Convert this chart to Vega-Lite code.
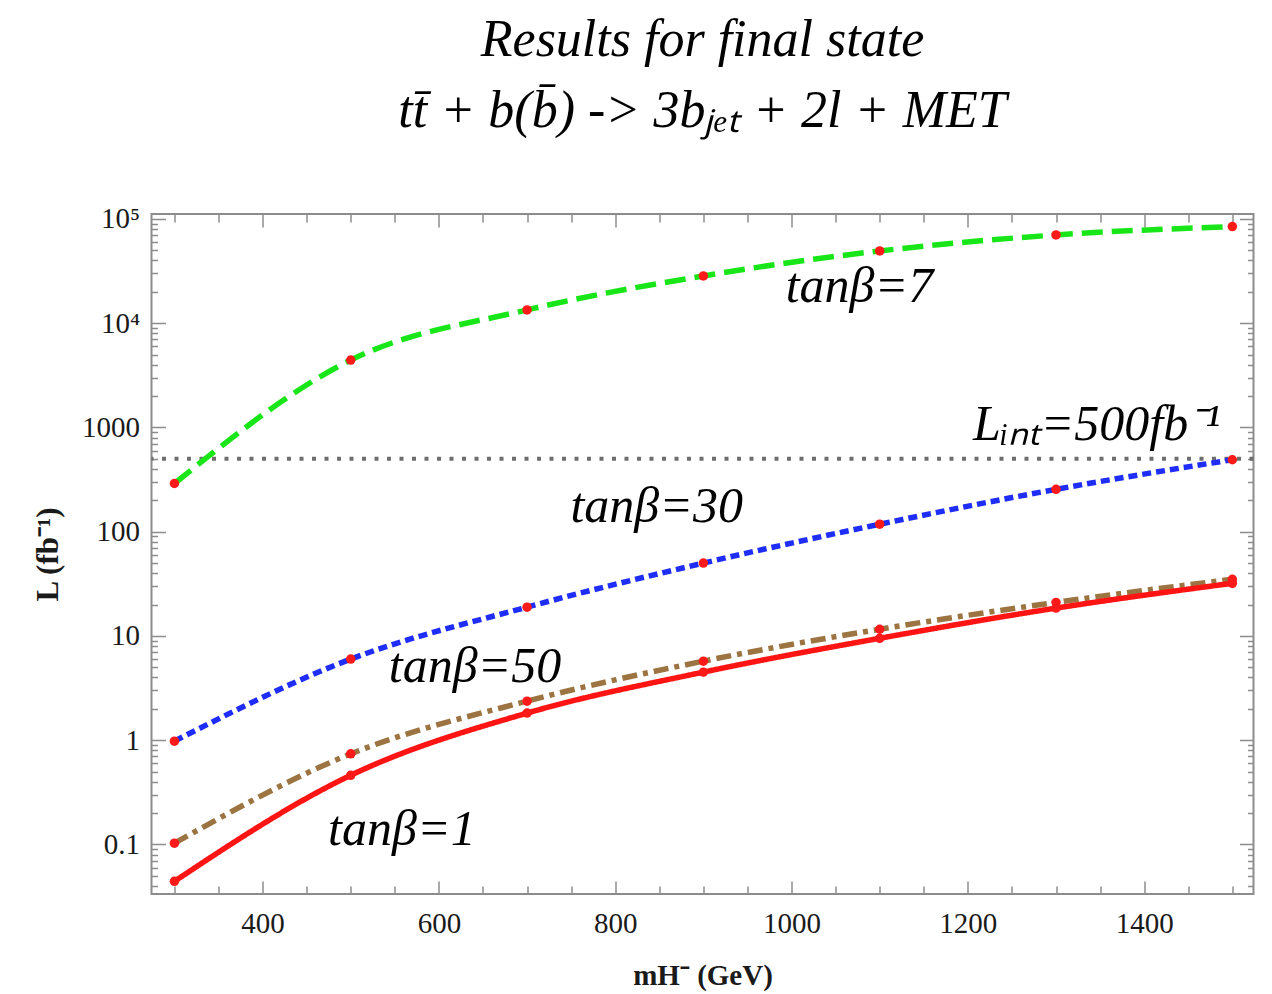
{
  "$schema": "https://vega.github.io/schema/vega-lite/v6.json",
  "width": 1102,
  "height": 680,
  "autosize": {"type": "none"},
  "padding": {"left": 151.5, "top": 214, "right": 18.5, "bottom": 100},
  "background": "white",
  "title": {
    "text": ["Results for final state", "tt̄ + b(b̄) -> 3bⱼₑₜ + 2l + MET"],
    "font": "Liberation Serif",
    "fontStyle": "italic",
    "fontWeight": "normal",
    "fontSize": 52,
    "lineHeight": 71,
    "anchor": "middle",
    "offset": 67,
    "color": "black"
  },
  "config": {
    "view": {"stroke": "#8c8c8c", "strokeWidth": 2},
    "axis": {
      "domain": false,
      "grid": false,
      "labelFont": "Liberation Serif",
      "labelFontSize": 29,
      "labelColor": "#1a1a1a",
      "labelOverlap": false,
      "labelFlush": false,
      "labelBound": false,
      "tickColor": "#8c8c8c",
      "tickWidth": 1.5,
      "titleFont": "Liberation Serif",
      "titleFontWeight": "bold",
      "titleColor": "#1a1a1a"
    }
  },
  "datasets": {
    "curves": [
      {"m": 300, "L": 290, "s": "tanβ=7"},
      {"m": 500, "L": 4430, "s": "tanβ=7"},
      {"m": 700, "L": 13400, "s": "tanβ=7"},
      {"m": 900, "L": 28400, "s": "tanβ=7"},
      {"m": 1100, "L": 49300, "s": "tanβ=7"},
      {"m": 1300, "L": 70200, "s": "tanβ=7"},
      {"m": 1500, "L": 84400, "s": "tanβ=7"},
      {"m": 300, "L": 0.98, "s": "tanβ=30"},
      {"m": 500, "L": 6.0, "s": "tanβ=30"},
      {"m": 700, "L": 18.9, "s": "tanβ=30"},
      {"m": 900, "L": 50, "s": "tanβ=30"},
      {"m": 1100, "L": 118, "s": "tanβ=30"},
      {"m": 1300, "L": 255, "s": "tanβ=30"},
      {"m": 1500, "L": 490, "s": "tanβ=30"},
      {"m": 300, "L": 0.103, "s": "tanβ=50"},
      {"m": 500, "L": 0.74, "s": "tanβ=50"},
      {"m": 700, "L": 2.37, "s": "tanβ=50"},
      {"m": 900, "L": 5.73, "s": "tanβ=50"},
      {"m": 1100, "L": 11.6, "s": "tanβ=50"},
      {"m": 1300, "L": 21.0, "s": "tanβ=50"},
      {"m": 1500, "L": 35, "s": "tanβ=50"},
      {"m": 300, "L": 0.0443, "s": "tanβ=1"},
      {"m": 500, "L": 0.461, "s": "tanβ=1"},
      {"m": 700, "L": 1.82, "s": "tanβ=1"},
      {"m": 900, "L": 4.5, "s": "tanβ=1"},
      {"m": 1100, "L": 9.5, "s": "tanβ=1"},
      {"m": 1300, "L": 18.5, "s": "tanβ=1"},
      {"m": 1500, "L": 32, "s": "tanβ=1"}
    ],
    "labels": [
      {"m": 1077, "L": 15960, "t": "tanβ=7"},
      {"m": 1346, "L": 757, "t": "Lᵢₙₜ=500fb⁻¹"},
      {"m": 847, "L": 124, "t": "tanβ=30"},
      {"m": 641, "L": 3.6, "t": "tanβ=50"},
      {"m": 558, "L": 0.098, "t": "tanβ=1"}
    ]
  },
  "resolve": {"axis": {"x": "independent", "y": "independent"}},
  "layer": [
    {
      "data": {"values": [{"L": 500}]},
      "mark": {"type": "rule", "color": "#6e6e6e", "strokeWidth": 4, "strokeDash": [4, 8.5]},
      "encoding": {
        "y": {"field": "L", "type": "quantitative", "scale": {"type": "log", "domain": [0.0335, 111500], "nice": false}, "axis": null}
      }
    },
    {
      "data": {"name": "curves"},
      "mark": {"type": "line", "interpolate": "monotone", "strokeWidth": 5.5, "strokeCap": "butt"},
      "encoding": {
        "x": {
          "field": "m", "type": "quantitative",
          "scale": {"domain": [274, 1524], "nice": false, "zero": false},
          "axis": {
            "orient": "bottom",
            "values": [300, 350, 400, 450, 500, 550, 600, 650, 700, 750, 800, 850, 900, 950, 1000, 1050, 1100, 1150, 1200, 1250, 1300, 1350, 1400, 1450, 1500],
            "labelExpr": "datum.value % 200 == 0 ? format(datum.value, 'd') : ''",
            "tickSize": {"condition": {"test": "datum.value % 200 == 0", "value": -13}, "value": -8},
            "labelPadding": 28,
            "title": "mH⁻ (GeV)",
            "titleFontSize": 29,
            "titlePadding": 18
          }
        },
        "y": {
          "field": "L", "type": "quantitative",
          "scale": {"type": "log", "domain": [0.0335, 111500], "nice": false},
          "axis": {
            "orient": "left",
            "values": [0.04, 0.05, 0.06, 0.07, 0.08, 0.09, 0.1, 0.2, 0.3, 0.4, 0.5, 0.6, 0.7, 0.8, 0.9, 1, 2, 3, 4, 5, 6, 7, 8, 9, 10, 20, 30, 40, 50, 60, 70, 80, 90, 100, 200, 300, 400, 500, 600, 700, 800, 900, 1000, 2000, 3000, 4000, 5000, 6000, 7000, 8000, 9000, 10000, 20000, 30000, 40000, 50000, 60000, 70000, 80000, 90000, 100000],
            "labelExpr": "abs(log(datum.value) / LN10 - round(log(datum.value) / LN10)) > 0.000001 ? '' : datum.value > 50000 ? '10⁵' : datum.value > 5000 ? '10⁴' : datum.value < 0.5 ? '0.1' : format(datum.value, 'd')",
            "tickSize": {"condition": {"test": "abs(log(datum.value) / LN10 - round(log(datum.value) / LN10)) < 0.000001", "value": -14}, "value": -6},
            "labelPadding": 26,
            "title": "L (fb⁻¹)",
            "titleFontSize": 31,
            "titlePadding": 17
          }
        },
        "color": {
          "field": "s", "type": "nominal",
          "scale": {"domain": ["tanβ=7", "tanβ=30", "tanβ=50", "tanβ=1"], "range": ["#19e619", "#1f2dfa", "#9c7442", "#ff1414"]},
          "legend": null
        },
        "strokeDash": {
          "field": "s", "type": "nominal",
          "scale": {"domain": ["tanβ=7", "tanβ=30", "tanβ=50", "tanβ=1"], "range": [[21, 9], [9, 5], [15, 6, 5, 6], [1, 0]]},
          "legend": null
        }
      }
    },
    {
      "data": {"name": "curves"},
      "mark": {"type": "point", "filled": true, "color": "#ff1a1a", "size": 90, "opacity": 1},
      "encoding": {
        "x": {
          "field": "m", "type": "quantitative",
          "scale": {"domain": [274, 1524], "nice": false, "zero": false},
          "axis": {
            "orient": "top",
            "values": [300, 350, 400, 450, 500, 550, 600, 650, 700, 750, 800, 850, 900, 950, 1000, 1050, 1100, 1150, 1200, 1250, 1300, 1350, 1400, 1450, 1500],
            "labels": false,
            "title": null,
            "tickSize": {"condition": {"test": "datum.value % 200 == 0", "value": -13}, "value": -8}
          }
        },
        "y": {
          "field": "L", "type": "quantitative",
          "scale": {"type": "log", "domain": [0.0335, 111500], "nice": false},
          "axis": {
            "orient": "right",
            "values": [0.04, 0.05, 0.06, 0.07, 0.08, 0.09, 0.1, 0.2, 0.3, 0.4, 0.5, 0.6, 0.7, 0.8, 0.9, 1, 2, 3, 4, 5, 6, 7, 8, 9, 10, 20, 30, 40, 50, 60, 70, 80, 90, 100, 200, 300, 400, 500, 600, 700, 800, 900, 1000, 2000, 3000, 4000, 5000, 6000, 7000, 8000, 9000, 10000, 20000, 30000, 40000, 50000, 60000, 70000, 80000, 90000, 100000],
            "labels": false,
            "title": null,
            "tickSize": {"condition": {"test": "abs(log(datum.value) / LN10 - round(log(datum.value) / LN10)) < 0.000001", "value": -14}, "value": -6}
          }
        }
      }
    },
    {
      "data": {"name": "labels"},
      "mark": {"type": "text", "font": "Liberation Serif", "fontStyle": "italic", "fontSize": 50, "align": "center", "baseline": "alphabetic", "color": "black"},
      "encoding": {
        "x": {"field": "m", "type": "quantitative", "scale": {"domain": [274, 1524], "nice": false, "zero": false}, "axis": null},
        "y": {"field": "L", "type": "quantitative", "scale": {"type": "log", "domain": [0.0335, 111500], "nice": false}, "axis": null},
        "text": {"field": "t", "type": "nominal"}
      }
    }
  ]
}
